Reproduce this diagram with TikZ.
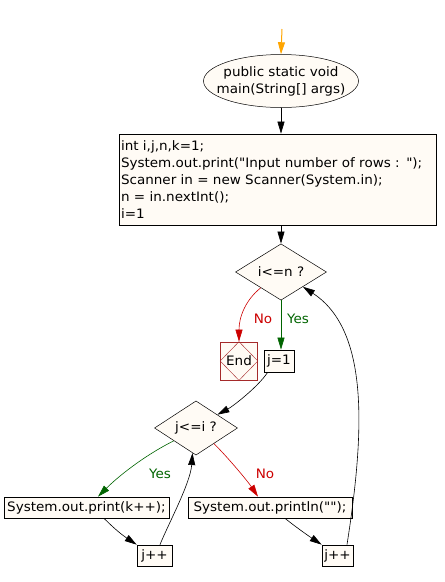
\documentclass[tikz,border=0pt]{standalone}
\usepackage{fontspec}
\setmainfont{DejaVu Sans}[Ligatures=TeXOff, FakeStretch=1.04]
\usetikzlibrary{shapes.geometric,arrows.meta}
\definecolor{nodefill}{RGB}{255,251,245}
\definecolor{noRed}{RGB}{204,0,0}
\definecolor{yesGreen}{RGB}{0,100,0}
\definecolor{endRed}{RGB}{165,42,42}
\definecolor{startOrange}{RGB}{255,165,0}
\tikzset{
  base/.style={draw, fill=nodefill, inner sep=1pt, font=\fontsize{13}{18}\selectfont},
  stepbox/.style={base, rectangle, line width=0.7pt},
  decision/.style={base, diamond, line width=0.5pt},
  flow/.style={-{Triangle[length=12pt,width=7pt]}, line width=0.6pt},
  lbl/.style={font=\fontsize{13}{14}\selectfont},
}
\begin{document}
\begin{tikzpicture}[x=1pt,y=-1pt]
\useasboundingbox (0,0) rectangle (445,582);
% nodes
\coordinate (s) at (282,29);
\node[base, ellipse, line width=0.5pt, minimum width=155pt, minimum height=53pt] (main) at (281,81) {};
\node[font=\fontsize{13}{17}\selectfont, align=center, inner sep=0pt] (maint) at (main.center) {public static void\\main(String[] args)};
\node[stepbox, minimum width=317pt, minimum height=91pt, text width=313pt, align=left, inner sep=2pt] (init) at (277.5,179.5)
 {int i,j,n,k=1;\\[-1pt]System.out.print("Input number of rows : ");\\[-1pt]Scanner in = new Scanner(System.in);\\[-1pt]n = in.nextInt();\\[-1pt]i=1};
\node[decision, minimum width=91pt, minimum height=45pt, inner sep=0pt] (d1) at (281,272) {i<=n ?};
\node[base, rectangle, draw=endRed, line width=0.7pt, minimum width=37pt, minimum height=38pt] (endn) at (239,361) {};
\draw[endRed, line width=0.4pt] (endn.north) -- (endn.west) -- (endn.south) -- (endn.east) -- cycle;
\node[font=\fontsize{13}{14}\selectfont] (endt) at (endn.center) {End};
\node[stepbox, minimum width=30pt, minimum height=22pt] (j1) at (279,361) {j=1};
\node[decision, minimum width=83pt, minimum height=44pt, inner sep=0pt] (d2) at (196,428) {j<=i ?};
\node[stepbox, minimum width=165pt, minimum height=21pt] (pr) at (86.5,507.5) {System.out.print(k++);};
\node[stepbox, minimum width=164pt, minimum height=21pt] (prl) at (270,507.5) {System.out.println("");};
\node[stepbox, minimum width=35pt, minimum height=21pt] (jp1) at (154.5,555.5) {j++};
\node[stepbox, minimum width=31pt, minimum height=21pt] (jp2) at (337.5,555.5) {j++};
% labels
\node[lbl, text=noRed] (no1) at (263,319) {No};
\node[lbl, text=yesGreen] (yes1) at (298,319) {Yes};
\node[lbl, text=yesGreen] (yes2) at (160,474) {Yes};
\node[lbl, text=noRed] (no2) at (265,474) {No};
% edges
\draw[flow, startOrange, line width=1pt] (s) -- (main.north);
\draw[flow] (main.south) -- (main.south |- init.north);
\draw[flow] (d1.north |- init.south) -- (d1.north);
\draw[flow, noRed] (d1.218) .. controls +(-15,12) and +(0,-25) .. (endn.north);
\draw[flow, yesGreen] (d1.south) -- (d1.south |- j1.north);
\draw[flow] ([xshift=4pt]j1.south west) .. controls +(-10,15) and +(15,-8) .. (d2.32);
\draw[flow, yesGreen] (d2.210) .. controls +(-30,15) and +(20,-20) .. ([xshift=11.5pt]pr.north);
\draw[flow, noRed] (d2.319) .. controls +(15,15) and +(-10,-15) .. ([xshift=-12pt]prl.north);
\draw[flow] ([xshift=17.5pt]pr.south) .. controls +(10,10) and +(-15,-10) .. (jp1.north west);
\draw[flow] ([xshift=15pt]prl.south) .. controls +(10,8) and +(-15,-10) .. (jp2.north west);
\draw[flow] ([xshift=5.5pt]jp1.north) .. controls +(8,-20) and +(-2,30) .. (d2.262);
\draw[flow] ([xshift=9.5pt]jp2.north) .. controls +(18,-115) and +(66,43) .. (d1.326);
\end{tikzpicture}
\end{document}
